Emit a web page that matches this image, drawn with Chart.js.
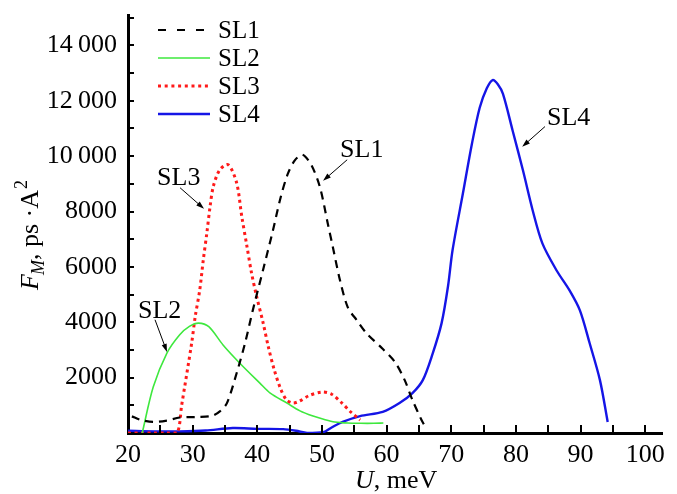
<!DOCTYPE html>
<html>
<head>
<meta charset="utf-8">
<script src="https://cdn.jsdelivr.net/npm/chart.js@4.4.1/dist/chart.umd.min.js"></script>
<style>
  html, body { margin: 0; padding: 0; background: #fff; }
</style>
</head>
<body>
<canvas id="fm" width="677" height="494"></canvas>
<script>
// energy U (meV) and F_M (ps·A^2) for each superlattice
const seriesNames = ['SL1', 'SL2', 'SL3', 'SL4'];

const sl1U = [20.6, 22, 23.9, 26, 28, 30.7, 33, 34.2, 35.3, 36.8, 38.1, 39.3, 40.9, 42.4, 43.6, 44.7, 45.8, 47, 48.4, 49.7, 50.9, 51.7, 52.8, 54, 55.4, 56.9, 59.3, 61.3, 62.8, 64, 65.4, 65.8];
const sl1F = [600, 470, 400, 450, 560, 580, 620, 780, 1080, 2160, 3240, 4430, 5900, 7300, 8500, 9350, 9850, 10050, 9660, 8870, 7570, 6700, 5510, 4540, 4070, 3600, 3060, 2560, 1910, 1190, 470, 300];

const sl2U = [22.2, 23.9, 26, 28, 29.5, 30.9, 32.5, 34.7, 37.3, 40.4, 42, 44.6, 46.6, 48.5, 50.5, 52, 54, 56, 58, 59.5];
const sl2F = [0, 1660, 2880, 3550, 3850, 3970, 3840, 3180, 2520, 1800, 1440, 1080, 800, 620, 480, 400, 360, 350, 350, 360];

const sl3U = [20, 22, 24, 26, 27.6, 28.3, 29.85, 30.4, 31.1, 31.65, 32.2, 32.7, 33.2, 34.2, 35.5, 36.8, 37.6, 38.4, 39.1, 39.9, 40.9, 41.7, 42.6, 43.6, 44.5, 45.5, 46.5, 48, 50, 51.5, 53.1, 54.5, 55.9];
const sl3F = [0, 0, 0, 0, 0, 1000, 3250, 4210, 5170, 6260, 7230, 8190, 8910, 9510, 9690, 9040, 7820, 6740, 5790, 4930, 3980, 3120, 2300, 1600, 1200, 1080, 1150, 1350, 1480, 1400, 1080, 750, 470];

const sl4U = [20, 24, 28, 32, 36.2, 40, 44, 46, 47.7, 50.2, 51.5, 53.2, 55.9, 59.4, 62, 64, 65.6, 67.1, 68.5, 69.5, 70.2, 71.8, 73.2, 74.4, 75.5, 76.4, 77.2, 78, 79.5, 81.1, 82.6, 84.1, 86.3, 88.3, 89.9, 91.4, 93, 94.2];
const sl4F = [80, 60, 60, 90, 180, 150, 140, 80, 0, 30, 200, 400, 610, 760, 1080, 1440, 1910, 2850, 3960, 5300, 6600, 8650, 10450, 11750, 12450, 12750, 12600, 12250, 10920, 9480, 8040, 6850, 5870, 5150, 4430, 3250, 1910, 400];

const xTicks = [20, 30, 40, 50, 60, 70, 80, 90, 100];
const yTicks = [2000, 4000, 6000, 8000, 10000, 12000, 14000];

const serif = "'Liberation Serif', 'Times New Roman', serif";
Chart.defaults.font.family = serif;
Chart.defaults.font.size = 26;
Chart.defaults.color = '#000';

const pts = (xs, ys) => xs.map((x, i) => ({ x: x, y: ys[i] }));

// callout labels with arrows, in data units
const callouts = [
  { text: 'SL3', at: [24.5, 8970], from: [28.05, 8860], to: [31.76, 8100] },
  { text: 'SL2', at: [21.55, 4160], from: [24.18, 4090], to: [26.03, 2930] },
  { text: 'SL1', at: [52.8, 9980], from: [53.9, 9870], to: [50.17, 9110] },
  { text: 'SL4', at: [84.8, 11140], from: [84.5, 11070], to: [80.97, 10340] }
];

function arrow(ctx, x1, y1, x2, y2) {
  const a = Math.atan2(y2 - y1, x2 - x1);
  const len = 8, half = 2.6;
  ctx.beginPath();
  ctx.moveTo(x1, y1);
  ctx.lineTo(x2 - Math.cos(a) * len * 0.8, y2 - Math.sin(a) * len * 0.8);
  ctx.stroke();
  ctx.beginPath();
  ctx.moveTo(x2, y2);
  ctx.lineTo(x2 - Math.cos(a) * len - Math.sin(a) * half, y2 - Math.sin(a) * len + Math.cos(a) * half);
  ctx.lineTo(x2 - Math.cos(a) * len + Math.sin(a) * half, y2 - Math.sin(a) * len - Math.cos(a) * half);
  ctx.closePath();
  ctx.fill();
}

const extras = {
  id: 'extras',
  afterDraw(chart) {
    const ctx = chart.ctx;
    const xs = chart.scales.x, ys = chart.scales.y;
    const area = chart.chartArea;
    ctx.save();

    // inward tick marks, major and minor
    ctx.strokeStyle = '#000';
    ctx.lineWidth = 2;
    ctx.beginPath();
    for (let v = 25; v <= 100; v += 5) {
      const px = Math.round(xs.getPixelForValue(v));
      ctx.moveTo(px, area.bottom);
      ctx.lineTo(px, area.bottom - 8);
    }
    for (let v = 1000; v <= 15000; v += 1000) {
      const py = Math.round(ys.getPixelForValue(v));
      ctx.moveTo(area.left, py);
      ctx.lineTo(area.left + 6, py);
    }
    ctx.stroke();

    // legend
    ctx.textBaseline = 'middle';
    ctx.textAlign = 'left';
    ctx.font = '25px ' + serif;
    chart.data.datasets.forEach((ds, i) => {
      const y = 30 + i * 28;
      ctx.save();
      ctx.strokeStyle = ds.borderColor;
      ctx.lineWidth = ds.borderWidth;
      ctx.setLineDash(ds.legendDash || []);
      ctx.beginPath();
      ctx.moveTo(158, y);
      ctx.lineTo(210, y);
      ctx.stroke();
      ctx.restore();
      ctx.fillStyle = '#000';
      ctx.fillText(ds.label, 218, y + 1);
    });

    // callouts
    ctx.font = '26px ' + serif;
    ctx.textBaseline = 'alphabetic';
    ctx.fillStyle = '#000';
    ctx.lineWidth = 1;
    callouts.forEach(c => {
      ctx.fillText(c.text, xs.getPixelForValue(c.at[0]), ys.getPixelForValue(c.at[1]));
      arrow(ctx, xs.getPixelForValue(c.from[0]), ys.getPixelForValue(c.from[1]),
                 xs.getPixelForValue(c.to[0]), ys.getPixelForValue(c.to[1]));
    });

    // x axis title
    ctx.font = 'italic 26px ' + serif;
    let x = 355;
    ctx.fillText('U', x, 488);
    x += ctx.measureText('U').width;
    ctx.font = '26px ' + serif;
    ctx.fillText(', meV', x, 488);

    // y axis title, rotated
    ctx.translate(38, 290);
    ctx.rotate(-Math.PI / 2);
    x = 0;
    ctx.font = 'italic 26px ' + serif;
    ctx.fillText('F', 0, 0);
    x += ctx.measureText('F').width - 1;
    ctx.font = 'italic 18px ' + serif;
    ctx.fillText('M', x, 6);
    x += ctx.measureText('M').width;
    ctx.font = '26px ' + serif;
    ctx.fillText(', ps \u00b7A', x, 0);
    x += ctx.measureText(', ps \u00b7A').width + 1;
    ctx.font = '18px ' + serif;
    ctx.fillText('2', x, -11);

    ctx.restore();
  }
};

new Chart(document.getElementById('fm'), {
  type: 'line',
  data: {
    datasets: [
      { label: seriesNames[0], data: pts(sl1U, sl1F), borderColor: '#000', borderWidth: 2.2,
        borderDash: [8, 6], legendDash: [8, 11], tension: 0.3 },
      { label: seriesNames[1], data: pts(sl2U, sl2F), borderColor: '#3ee83e', borderWidth: 1.6,
        tension: 0.3 },
      { label: seriesNames[2], data: pts(sl3U, sl3F), borderColor: '#ff1a1a', borderWidth: 3,
        borderDash: [3, 3.5], legendDash: [3, 3.7], tension: 0.3 },
      { label: seriesNames[3], data: pts(sl4U, sl4F), borderColor: '#1515e6', borderWidth: 2.4,
        tension: 0.3 }
    ]
  },
  options: {
    responsive: false,
    animation: false,
    layout: { padding: { top: 15, right: 15, left: 0, bottom: 0 } },
    elements: {
      point: { radius: 0 },
      line: { fill: false }
    },
    plugins: { legend: { display: false }, tooltip: { enabled: false } },
    scales: {
      x: {
        type: 'linear',
        min: 20,
        max: 102.6,
        afterFit: s => { s.height = 61; s.paddingLeft = 0; s.paddingRight = 0; },
        afterBuildTicks: s => { s.ticks = xTicks.map(v => ({ value: v })); },
        grid: { display: false, drawTicks: false, tickLength: 0 },
        border: { display: true, color: '#000', width: 3 },
        ticks: { color: '#000', padding: 7, maxRotation: 0, autoSkip: false,
                 font: { family: serif, size: 26 } }
      },
      y: {
        type: 'linear',
        min: 0,
        max: 15100,
        afterFit: s => { s.width = 128; s.paddingTop = 0; s.paddingBottom = 0; },
        afterBuildTicks: s => { s.ticks = yTicks.map(v => ({ value: v })); },
        grid: { display: false, drawTicks: false, tickLength: 0 },
        border: { display: true, color: '#000', width: 3 },
        ticks: {
          color: '#000', padding: 11, autoSkip: false,
          font: { family: serif, size: 26 },
          callback: v => v >= 10000 ? String(v).slice(0, -3) + '\u2009' + String(v).slice(-3) : String(v)
        }
      }
    }
  },
  plugins: [extras]
});
</script>
</body>
</html>
